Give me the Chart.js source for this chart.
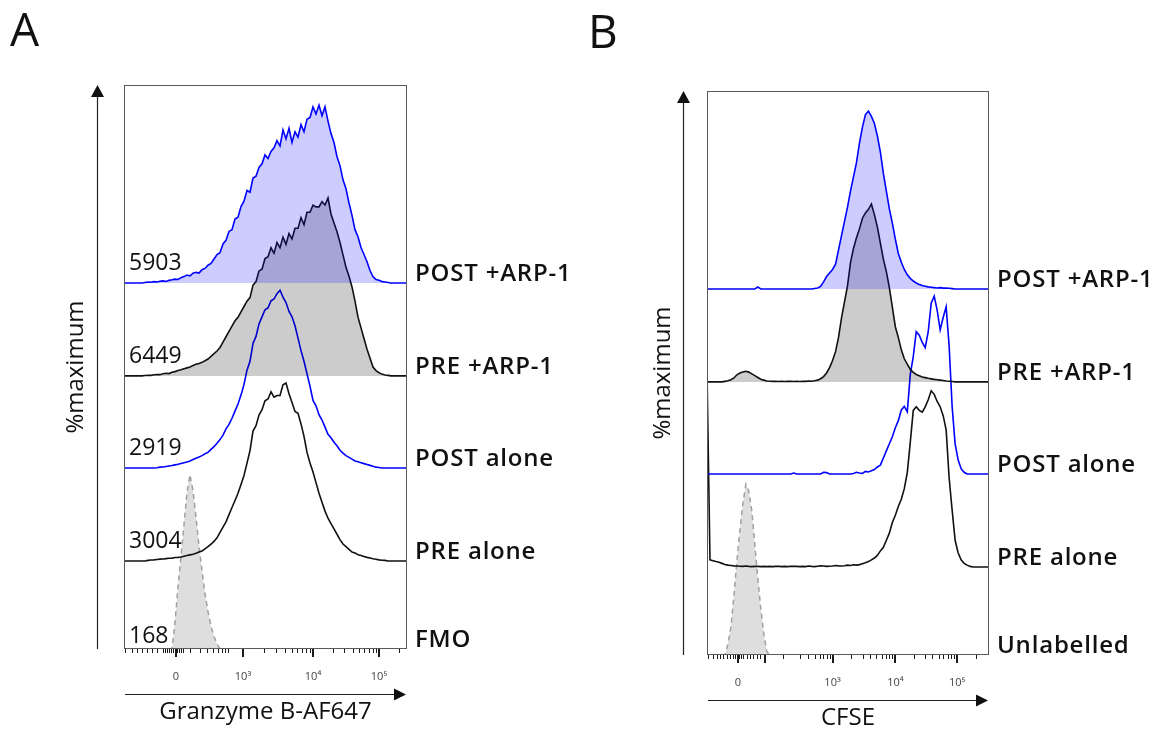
<!DOCTYPE html>
<html>
<head>
<meta charset="utf-8">
<script src="https://cdn.jsdelivr.net/npm/chart.js@4.4.1/dist/chart.umd.min.js"></script>
<style>
  body { margin: 0; background: #fff; width: 1155px; height: 731px; overflow: hidden; position: relative; }
  .panel { position: absolute; top: 0; }
</style>
</head>
<body>
<div class="panel" style="left:0px"><canvas id="chartA" width="580" height="731"></canvas></div>
<div class="panel" style="left:580px"><canvas id="chartB" width="575" height="731"></canvas></div>
<script>
// Display channels (x), shared by both panels
const channels = [
  0, 3, 6, 9, 12, 15, 18, 21, 24, 27,
  30, 33, 36, 39, 42, 45, 48, 51, 54, 57,
  60, 63, 66, 69, 72, 75, 78, 81, 84, 87,
  90, 93, 96, 99, 102, 105, 108, 111, 114, 117,
  120, 123, 126, 129, 132, 135, 138, 141, 144, 147,
  150, 153, 156, 159, 162, 165, 168, 171, 174, 177,
  180, 183, 186, 189, 192, 195, 198, 201, 204, 207,
  210, 213, 216, 219, 222, 225, 228, 231, 234, 237,
  240, 243, 246, 249, 252, 255, 258, 261, 264, 267,
  270, 273, 276, 279, 282
];

// Panel A - Granzyme B-AF647 (% of max per sample)
const aPostArp = [
  0, 0, 0, 0, 0, 0, 0, 0.3, 0.5, 0.4,
  0.8, 0.6, 1, 1.2, 0.9, 1.5, 1.8, 2.2, 2, 3,
  3.6, 4.5, 4, 5.5, 6, 5.6, 7.5, 8.2, 10, 11,
  13.5, 16, 17, 22, 24, 29, 30, 36, 37, 43,
  46, 52, 51, 59, 60, 65, 67, 72, 70, 74,
  76, 80, 77, 86, 81, 87, 79, 85, 82, 89,
  85, 92, 93, 99, 95, 100, 94, 99, 91, 84,
  79, 71, 66, 58, 53, 45, 38, 30, 26, 20,
  16, 12, 7, 3.5, 2, 1.5, 0.8, 0.6, 0.3, 0,
  0, 0, 0, 0, 0
];
const aPreArp = [
  0, 0, 0, 0, 0, 0, 0, 0.2, 0.4, 0.3,
  0.6, 0.8, 0.7, 1.2, 1.5, 1.3, 2, 2.4, 3, 3.4,
  4, 4.5, 5, 5.8, 6.5, 7, 7.6, 8.5, 9.5, 11,
  12.5, 14, 16, 19, 22, 25, 28, 31, 33, 36,
  39, 42, 44, 51, 53, 59, 60, 66, 67, 72,
  69, 75, 72, 78, 74, 80, 77, 83, 83, 89,
  85, 92, 92, 96, 95, 95, 98, 96, 100, 91,
  86, 81, 75, 68, 61, 56, 50, 42, 33, 27,
  21, 15, 10, 5, 3, 1.8, 1, 0.5, 0.3, 0,
  0, 0, 0, 0, 0
];
const aPostAlone = [
  0, 0, 0, 0, 0, 0, 0, 0, 0, 0,
  0, 0.2, 0.5, 0.6, 0.9, 1.2, 1.4, 1.8, 2.1, 2.6,
  3, 3.4, 4, 4.8, 5.5, 6.2, 7, 8, 8.8, 10.5,
  12, 14, 16, 18.5, 22, 24.5, 28, 32, 36, 41,
  47, 55, 60, 70, 74, 81, 85, 89, 90, 94,
  95, 98, 100, 96, 93, 88, 85, 80, 73, 66,
  60, 53, 46, 38, 35, 30, 27, 23, 19, 17,
  14.5, 12.5, 10, 8.4, 7, 6, 5, 4, 3.5, 3,
  2.5, 2, 1.5, 1, 0.5, 0.3, 0, 0, 0, 0,
  0, 0, 0, 0, 0
];
const aPreAlone = [
  0, 0, 0, 0, 0, 0, 0, 0, 0.3, 0.5,
  0.6, 0.8, 1, 1.1, 1.3, 1.5, 1.6, 1.9, 2, 2.2,
  2.6, 3, 3.4, 3.8, 4.3, 5, 5.6, 6.8, 8, 9.5,
  11, 13, 16, 19, 22, 26, 30, 34, 38, 43,
  48, 55, 62, 73, 76, 82, 85, 90, 91, 95,
  92, 93, 93, 99, 100, 94, 89, 84, 83, 77,
  70, 61, 55, 50, 44, 38, 33, 28, 24, 21,
  18, 15, 12, 9.5, 8, 6.5, 5, 4.5, 3.5, 3,
  2.5, 2, 1.6, 1.2, 0.9, 0.6, 0.4, 0.3, 0, 0,
  0, 0, 0, 0, 0
];
const aFmo = [
  null, null, null, null, null, null, null, null, null, null,
  null, null, null, null, null, 0, 0, 15, 35, 52,
  70, 88, 98, 89, 74, 58, 44, 31, 21, 13,
  7, 3, 0, null, null, null, null, null, null, null,
  null, null, null, null, null, null, null, null, null, null,
  null, null, null, null, null, null, null, null, null, null,
  null, null, null, null, null, null, null, null, null, null,
  null, null, null, null, null, null, null, null, null, null,
  null, null, null, null, null, null, null, null, null, null,
  null, null, null, null, null
];
const aLaneNames = ['POST +ARP-1', 'PRE +ARP-1', 'POST alone', 'PRE alone', 'FMO'];
const aCounts = ['5903', '6449', '2919', '3004', '168'];
const aMajorTicks = [52, 119, 189, 255];
const aMajorLabels = ['0', '10³', '10⁴', '10⁵'];
const aMinorTicks = [1, 8, 13, 18, 23, 28, 33, 39, 41, 43, 45, 47, 49, 51, 53, 55, 57, 59,
  66, 76, 83, 89, 94, 98, 101, 104, 140, 152, 161, 168, 173, 178, 182, 186,
  209, 220, 229, 235, 240, 245, 249, 252, 275];

// Panel B - CFSE (% of max per sample)
const bPostArp = [
  0, 0, 0, 0, 0, 0, 0, 0, 0, 0,
  0, 0, 0, 0, 0, 0, 0, 1.2, 0, 0,
  0, 0, 0, 0, 0, 0, 0, 0, 0, 0,
  0, 0, 0, 0, 0, 0, 0.3, 0.6, 1.5, 4,
  7, 9, 11, 14, 22, 30, 38, 46, 55, 63,
  71, 82, 91, 98, 100, 97, 93, 86, 77, 65,
  55, 45, 37, 28, 20, 15, 11, 8, 6, 4.5,
  3.4, 2.6, 2, 1.6, 1.2, 1, 0.8, 0.6, 0.8, 0.5,
  0.5, 0.4, 0.2, 0, 0, 0, 0, 0, 0, 0,
  0, 0, 0, 0, 0
];
const bPreArp = [
  0, 0, 0, 0, 0, 0, 0.3, 0.6, 1.2, 2.2,
  4, 5, 5.6, 6, 5.5, 4.5, 3.5, 2.5, 1.5, 1,
  0.5, 0.4, 0.3, 0.4, 0.2, 0.3, 0.2, 0.3, 0.4, 0.2,
  0.3, 0.2, 0.4, 0.3, 0.5, 0.4, 0.6, 1, 1.8, 3,
  5, 8, 12, 17, 25, 36, 45, 54, 67, 75,
  81, 86, 92, 95, 97, 100, 94, 87, 78, 69,
  62, 53, 42, 31, 25, 18, 13, 10, 7, 5.4,
  4.2, 3.5, 2.8, 2.4, 2, 1.7, 1.4, 1.2, 1, 0.8,
  0.5, 0.4, 0.2, 0, 0, 0, 0, 0, 0, 0,
  0, 0, 0, 0, 0
];
const bPostAlone = [
  0, 0, 0, 0, 0, 0, 0, 0, 0, 0,
  0, 0, 0, 0, 0, 0, 0, 0, 0, 0,
  0, 0, 0, 0, 0, 0, 0, 0, 0, 0.6,
  0, 0, 0, 0, 0, 0, 0, 0, 0, 1,
  0.8, 0, 0, 0, 0, 0, 0, 0, 0, 0.3,
  1, 0.6, 0.4, 1.5, 1.2, 1.8, 2.5, 4, 5, 9,
  13, 17, 21, 26, 30, 36, 38, 35, 56, 66,
  80, 78, 74, 71, 80, 96, 100, 92, 81, 88,
  94, 72, 38, 17, 8, 3, 1, 0, 0, 0,
  0, 0, 0, 0, 0
];
const bPreAlone = [
  110, 4, 3.5, 3, 2.6, 2, 1.4, 1, 0.8, 0.6,
  0.5, 0.4, 0.3, 0.5, 0.3, 0.2, 0.3, 0.3, 0.2, 0.3,
  0.2, 0.3, 0.2, 0.3, 0.3, 0.2, 0.3, 0.2, 0.4, 0.3,
  0.3, 0.2, 0.3, 0.2, 0.5, 0.3, 0.2, 0.4, 0.6, 0.5,
  0.3, 0.4, 0.5, 0.8, 0.6, 0.5, 0.7, 1, 0.8, 1.2,
  1, 1.3, 1.8, 2.3, 3, 4, 5, 6.5, 9, 11,
  15, 19, 25, 29, 34, 38, 44, 53, 70, 88,
  90, 88, 87, 90, 94, 99, 97, 93, 90, 85,
  77, 50, 32, 15, 8, 4, 2, 1, 0.3, 0,
  0, 0, 0, 0, 0
];
const bUnlabelled = [
  null, null, null, null, null, 0, 0, 6, 16, 33,
  53, 70, 85, 96, 92, 81, 62, 43, 26, 12,
  2, 0, null, null, null, null, null, null, null, null,
  null, null, null, null, null, null, null, null, null, null,
  null, null, null, null, null, null, null, null, null, null,
  null, null, null, null, null, null, null, null, null, null,
  null, null, null, null, null, null, null, null, null, null,
  null, null, null, null, null, null, null, null, null, null,
  null, null, null, null, null, null, null, null, null, null,
  null, null, null, null, null
];
const bLaneNames = ['POST +ARP-1', 'PRE +ARP-1', 'POST alone', 'PRE alone', 'Unlabelled'];
const bMajorTicks = [31, 58, 126, 189, 251];
const bMajorLabels = ['0', '', '10³', '10⁴', '10⁵'];
const bMinorTicks = [1, 6, 10, 13, 16, 20, 23, 26, 28, 30, 32, 34, 36, 40, 43, 46, 50, 53,
  76, 93, 101, 108, 113, 116, 120, 123, 145, 157, 164, 170, 176, 180, 183, 186,
  208, 219, 226, 233, 237, 242, 245, 248, 270];

// Vertical stacking of the histograms (in %max units, top lane first)
const laneOffsets = [205.7, 153.5, 101.7, 49.5, 0];

const laneStyles = [
  { line: '#0000ff', fill: 'rgba(0,0,255,0.2)', dash: [] },
  { line: '#111111', fill: 'rgba(0,0,0,0.2)', dash: [] },
  { line: '#0000ff', fill: null, dash: [] },
  { line: '#111111', fill: null, dash: [] },
  { line: '#a0a0a0', fill: 'rgba(0,0,0,0.13)', dash: [5, 4] }
];

Chart.defaults.font.family = "'Open Sans', sans-serif";

function makeDecor(cfg) {
  return {
    id: 'decor',
    afterDatasetsDraw(chart) {
      const { ctx, chartArea: a, scales: { x } } = chart;
      ctx.save();
      // plot frame
      ctx.strokeStyle = '#5a5a5a';
      ctx.lineWidth = 1;
      ctx.strokeRect(a.left + 0.5, a.top + 0.5, a.width - 1, a.height - 1);
      // minor and major tick marks
      ctx.strokeStyle = '#1a1a1a';
      cfg.minors.forEach(v => {
        const px = Math.round(x.getPixelForValue(v)) + 0.5;
        ctx.beginPath(); ctx.moveTo(px, a.bottom); ctx.lineTo(px, a.bottom + 4); ctx.stroke();
      });
      ctx.lineWidth = 2;
      cfg.majors.forEach(v => {
        const px = Math.round(x.getPixelForValue(v));
        ctx.beginPath(); ctx.moveTo(px, a.bottom); ctx.lineTo(px, a.bottom + 8); ctx.stroke();
      });
      ctx.restore();
    },
    afterDraw(chart) {
      const { ctx, chartArea: a, scales: { y } } = chart;
      ctx.save();
      ctx.fillStyle = '#111';
      ctx.strokeStyle = '#222';
      ctx.lineWidth = 1.2;

      // y arrow
      const ax = a.left - cfg.arrowGap + 0.5;
      ctx.beginPath(); ctx.moveTo(ax, a.bottom); ctx.lineTo(ax, a.top + 10); ctx.stroke();
      ctx.beginPath(); ctx.moveTo(ax, a.top); ctx.lineTo(ax - 6.5, a.top + 12); ctx.lineTo(ax + 6.5, a.top + 12);
      ctx.closePath(); ctx.fill();

      // x arrow
      const ay = a.bottom + 45 + 0.5;
      const tip = a.right - 1;
      ctx.beginPath(); ctx.moveTo(a.left + 1, ay); ctx.lineTo(tip - 10, ay); ctx.stroke();
      ctx.beginPath(); ctx.moveTo(tip, ay); ctx.lineTo(tip - 12, ay - 6); ctx.lineTo(tip - 12, ay + 6);
      ctx.closePath(); ctx.fill();

      // axis titles
      ctx.textAlign = 'center';
      ctx.textBaseline = 'alphabetic';
      ctx.font = "500 24px 'Open Sans'";
      ctx.fillText(cfg.xTitle, (a.left + a.right) / 2, a.bottom + 70);
      ctx.font = "24px 'Open Sans'";
      ctx.save();
      ctx.translate(a.left - cfg.yTitleGap, (a.top + a.bottom) / 2);
      ctx.rotate(-Math.PI / 2);
      ctx.fillText('%maximum', 0, 0);
      ctx.restore();

      // lane names and event counts
      ctx.textAlign = 'left';
      cfg.names.forEach((name, i) => {
        const base = y.getPixelForValue(laneOffsets[i]);
        ctx.font = "600 24px 'Open Sans'";
        ctx.letterSpacing = '0.8px';
        ctx.fillText(name, a.right + 8, base - 2);
        ctx.letterSpacing = '0px';
        if (cfg.counts) {
          ctx.font = "23px 'Open Sans'";
          const lift = i === cfg.names.length - 1 ? 6 : 13;
          ctx.fillText(cfg.counts[i], a.left + 5, base - lift);
        }
      });

      // panel letter
      ctx.font = "46px 'Open Sans'";
      ctx.fillText(cfg.letter, cfg.letterX, cfg.letterY);
      ctx.restore();
    }
  };
}

function buildPanel(canvasId, series, cfg) {
  const datasets = series.map((values, i) => {
    const st = laneStyles[i];
    return {
      data: values.map(v => (v === null ? null : v + laneOffsets[i])),
      borderColor: st.line,
      borderWidth: i === 4 ? 1.5 : 1.6,
      borderDash: st.dash,
      backgroundColor: st.fill || 'transparent',
      fill: st.fill ? { value: laneOffsets[i] } : false,
      pointRadius: 0,
      tension: 0
    };
  });

  return new Chart(document.getElementById(canvasId), {
    type: 'line',
    data: { labels: channels, datasets: datasets },
    options: {
      responsive: false,
      animation: false,
      devicePixelRatio: 1,
      layout: { padding: cfg.padding },
      plugins: { legend: { display: false }, tooltip: { enabled: false } },
      scales: {
        x: {
          type: 'linear',
          min: 0,
          max: 283,
          grid: { display: false, drawTicks: false },
          border: { display: false },
          afterBuildTicks: scale => { scale.ticks = cfg.majors.map(v => ({ value: v })); },
          afterFit: scale => { scale.height = 45; },
          ticks: {
            autoSkip: false,
            maxRotation: 0,
            padding: 21,
            color: '#444',
            font: { size: 11 },
            callback: (v, i) => cfg.majorLabels[i]
          }
        },
        y: { display: false, min: 0, max: 317 }
      }
    },
    plugins: [makeDecor(cfg)]
  });
}

buildPanel('chartA', [aPostArp, aPreArp, aPostAlone, aPreAlone, aFmo], {
  padding: { left: 124, top: 85, right: 173, bottom: 37 },
  majors: aMajorTicks, majorLabels: aMajorLabels, minors: aMinorTicks,
  names: aLaneNames, counts: aCounts,
  xTitle: 'Granzyme B-AF647', arrowGap: 27, yTitleGap: 41,
  letter: 'A', letterX: 10, letterY: 46
});

buildPanel('chartB', [bPostArp, bPreArp, bPostAlone, bPreAlone, bUnlabelled], {
  padding: { left: 127, top: 91, right: 166, bottom: 31 },
  majors: bMajorTicks, majorLabels: bMajorLabels, minors: bMinorTicks,
  names: bLaneNames, counts: null,
  xTitle: 'CFSE', arrowGap: 24, yTitleGap: 37,
  letter: 'B', letterX: 8, letterY: 48
});
</script>
</body>
</html>
